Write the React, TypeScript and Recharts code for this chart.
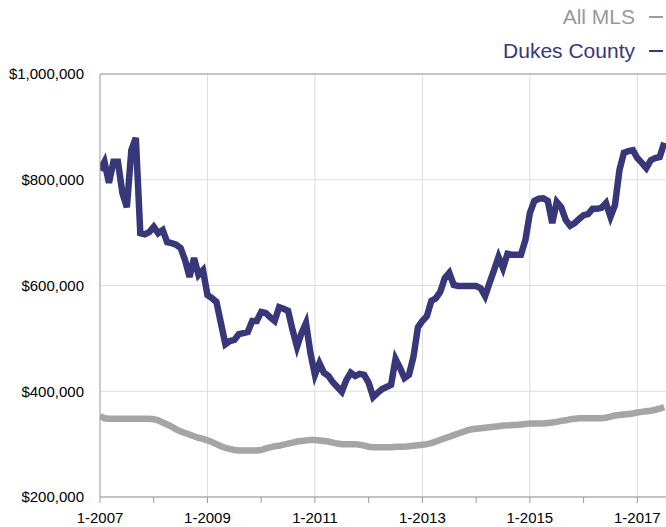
import { LineChart, Line, XAxis, YAxis, CartesianGrid, ReferenceLine } from 'recharts'

// monthly median prices, 1-2007 .. 7-2017 (in $1000s)
const dukesCounty = [
    818, 834, 794, 834, 834, 775, 748, 856, 879, 699, 697, 701, 711,
    699, 705, 682, 680, 677, 671, 648, 616, 652, 620, 629, 582, 576, 569,
    529, 489, 495, 497, 508, 510, 512, 533, 533, 550,
    548, 540, 533, 559, 556, 552, 516, 484, 510, 529,
    472, 431, 453, 435, 429, 417, 408, 399, 421, 435,
    429, 433, 431, 416, 389, 397, 404, 408, 412, 461,
    444, 425, 431, 465, 521, 533, 542, 571, 576, 588,
    614, 624, 601, 599, 599, 599, 599, 599, 595, 580,
    605, 629, 654, 633, 660, 658, 658, 658, 686, 737,
    760, 764, 765, 760, 718, 758, 748, 724, 713, 718,
    726, 733, 735, 745, 745, 747, 756, 730, 752, 818,
    851, 854, 856, 841, 832, 822, 837, 841, 843, 870,
]

const allMls = [
    353, 349, 348, 348, 348, 348, 348, 348, 348, 348, 348, 348, 347,
    345, 341, 337, 333, 328, 324, 321, 318, 315, 312, 310, 307, 304, 300,
    296, 293, 291, 289, 288, 288, 288, 288, 288, 289,
    292, 294, 296, 297, 299, 301, 303, 305, 306, 307,
    308, 308, 307, 306, 305, 303, 301, 300, 300, 300,
    300, 299, 297, 295, 294, 294, 294, 294, 294, 295,
    295, 295, 296, 297, 298, 299, 300, 302, 305, 308,
    311, 314, 317, 320, 323, 326, 328, 329, 330, 331,
    332, 333, 334, 335, 335, 336, 336, 337, 338, 339,
    339, 339, 339, 340, 341, 342, 344, 345, 347, 348,
    349, 349, 349, 349, 349, 349, 350, 352, 354, 355,
    356, 357, 358, 360, 361, 362, 363, 365, 367, 370,
]

const yTicks = [200000, 400000, 600000, 800000, 1000000]
const yearTicks = [0, 12, 24, 36, 48, 60, 72, 84, 96, 108, 120]
const gridYears = [24, 48, 72, 96, 120]
const startYear = 2007

const NAVY = '#37377a'
const GRAY = '#a5a5a5'
const FONT = '"Liberation Sans", Arial, sans-serif'

const data = dukesCounty.map((v, m) => ({
    m,
    dukes: v * 1000,
    mls: allMls[m] * 1000,
}))

const fmtMoney = (v: number) => '$' + v.toLocaleString('en-US')
const fmtMonth = (m: number) => (m % 24 === 0 ? `1-${startYear + m / 12}` : '')

function LegendRow({ label, color }: { label: string; color: string }) {
    return (
        <div style={{ display: 'flex', alignItems: 'center', justifyContent: 'flex-end', height: 34 }}>
            <span style={{ color, fontSize: 21, fontWeight: 300 }}>{label}</span>
            <span style={{ display: 'inline-block', width: 14, height: 2, background: color, marginLeft: 14, marginRight: 3 }} />
        </div>
    )
}

export default function App() {
    return (
        <div style={{ position: 'absolute', left: 0, top: 0, width: 666, height: 527, overflow: 'hidden', background: '#fff', fontFamily: FONT }}>
            <div style={{ position: 'absolute', right: 0, top: 0 }}>
                <LegendRow label="All MLS" color="#999999" />
                <LegendRow label="Dukes County" color={NAVY} />
            </div>
            <LineChart width={666} height={527} data={data} margin={{ top: 74, right: 0, left: 0, bottom: 0 }}>
                <CartesianGrid vertical={false} stroke="#dddddd" />
                {gridYears.map((m) => (
                    <ReferenceLine key={m} x={m} stroke="#dddddd" />
                ))}
                <ReferenceLine y={1000000} stroke="#999999" />
                <XAxis
                    type="number"
                    dataKey="m"
                    domain={[0, 126.4]}
                    allowDataOverflow
                    ticks={yearTicks}
                    tickFormatter={fmtMonth}
                    interval={0}
                    height={30}
                    tickSize={6}
                    tickMargin={9}
                    stroke="#999999"
                    tick={{ fontSize: 15, fill: '#000', fontFamily: FONT }}
                />
                <YAxis
                    domain={[200000, 1000000]}
                    ticks={yTicks}
                    tickFormatter={fmtMoney}
                    width={100}
                    tickLine={false}
                    tickSize={0}
                    tickMargin={16}
                    stroke="#999999"
                    tick={{ fontSize: 15, fill: '#000', fontFamily: FONT }}
                />
                <Line type="linear" dataKey="mls" stroke={GRAY} strokeWidth={6.5} dot={false} isAnimationActive={false} />
                <Line type="linear" dataKey="dukes" stroke={NAVY} strokeWidth={6.5} dot={false} isAnimationActive={false} />
            </LineChart>
        </div>
    )
}
